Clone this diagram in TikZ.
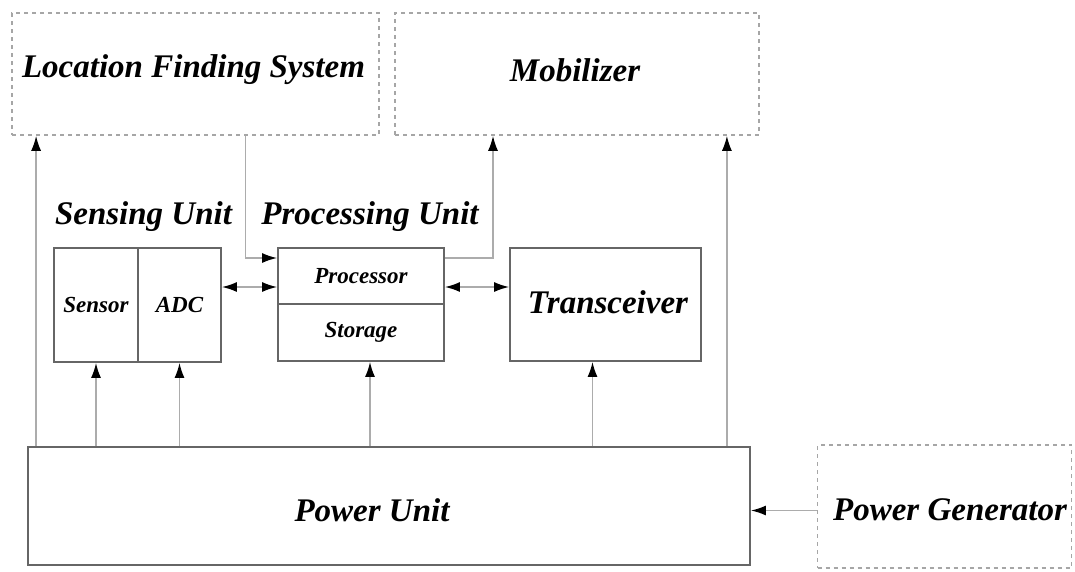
\documentclass[tikz,border=0pt]{standalone}
\usepackage{fontspec}
\setmainfont{Liberation Serif}
\usetikzlibrary{arrows.meta}
\begin{document}
\begin{tikzpicture}[x=1pt,y=-1pt,
  box/.style={draw=gray!80!black,line width=1.8pt,inner sep=0pt,fill=white},
  dbox/.style={draw=gray!70,line width=1.6pt,dash pattern=on 4pt off 4pt,inner sep=0pt},
  big/.style={font=\fontsize{33}{36}\selectfont\bfseries\itshape,inner sep=0pt},
  small/.style={font=\fontsize{23}{26}\selectfont\bfseries\itshape},
  conn/.style={draw=gray!65,line width=1.6pt},
  tip/.tip={Latex[length=15pt,width=10pt,color=black]},
  arr/.style={conn,-tip},
  darr/.style={conn,tip-tip}
]
\useasboundingbox (0,0) rectangle (1075,571);
% dashed external boxes
\node[dbox,minimum width=367pt,minimum height=122pt] (lfs) at (195.5,74) {};
\node[big] (lfst) at (193.5,70) {Location Finding System};
\node[dbox,minimum width=364pt,minimum height=122pt] (mob) at (577,74) {};
\node[big] (mobt) at (575,70) {Mobilizer};
\node[dbox,minimum width=254pt,minimum height=123pt] (pg) at (944.5,506.5) {};
\node[big] (pgt) at (950,510) {Power Generator};
% labels
\node[big] (sul) at (143.5,217) {Sensing Unit};
\node[big] (pul) at (370,217) {Processing Unit};
% sensing unit
\node[box,small,minimum width=84pt,minimum height=114pt] (sensor) at (96,305) {Sensor};
\node[box,small,minimum width=83pt,minimum height=114pt] (adc) at (179.5,305) {ADC};
% processing unit
\node[box,small,minimum width=166pt,minimum height=56pt] (proc) at (361,276) {Processor};
\node[box,small,minimum width=166pt,minimum height=57pt] (stor) at (361,332.5) {Storage};
% transceiver
\node[box,minimum width=191pt,minimum height=113pt] (trx) at (605.5,304.5) {};
\node[big] (trxt) at (608,302) {Transceiver};
% power unit
\node[box,minimum width=722pt,minimum height=118pt] (pu) at (389,506) {};
\node[big] (put) at (372,510) {Power Unit};
% power connectors
\draw[arr] ([xshift=9pt]pu.north west) -- ([xshift=9pt]pu.north west |- lfs.south);
\draw[arr] (sensor.south |- pu.north) -- (sensor.south);
\draw[arr] (adc.south |- pu.north) -- (adc.south);
\draw[arr] ([xshift=9pt]stor.south |- pu.north) -- ([xshift=9pt]stor.south);
\draw[arr] ([xshift=-13pt]trx.south |- pu.north) -- ([xshift=-13pt]trx.south);
\draw[arr] ([xshift=-24pt]pu.north east) -- ([xshift=-24pt]pu.north east |- mob.south);
\draw[arr] ([yshift=-4pt]pg.west) -- ([yshift=-4pt]pg.west -| pu.east);
% data connectors
\draw[arr] ([xshift=50pt]lfs.south) |- ([yshift=18pt]proc.west);
\draw[arr] ([yshift=18pt]proc.east) -| ([xshift=-84pt]mob.south);
\draw[darr] ([yshift=18pt]adc.east) -- ([yshift=-11pt]proc.west);
\draw[darr] ([yshift=-11pt]proc.east) -- ([yshift=17.5pt]trx.west);
\end{tikzpicture}
\end{document}
